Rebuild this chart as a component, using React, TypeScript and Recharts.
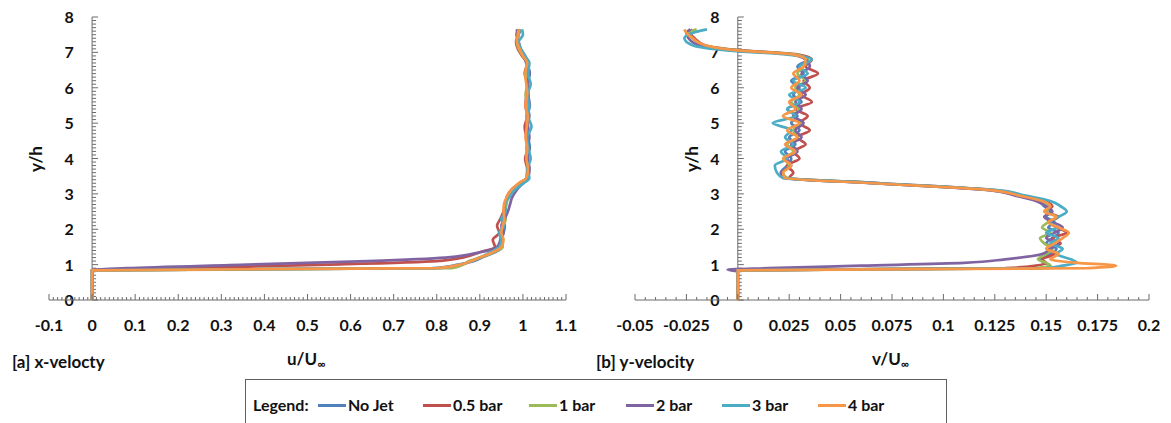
import React from 'react';
import { ScatterChart, Scatter, XAxis, YAxis, ReferenceLine } from 'recharts';

// ---------- series names & colours ----------
const seriesNames = ['No Jet', '0.5 bar', '1 bar', '2 bar', '3 bar', '4 bar'];
const seriesColors = ['#4F81BD', '#C0504D', '#9BBB59', '#8064A2', '#4BACC6', '#F79646'];

// ---------- [a] x-velocity: y/h levels and u/U∞ values ----------
const yLevelsU = [0, 0.84, 0.9, 1.0, 1.1, 1.2, 1.35, 1.5, 1.7, 1.9, 2.1, 2.3, 2.5, 2.7, 2.9, 3.1, 3.3, 3.45, 3.7, 4.0, 4.3, 4.6, 4.9, 5.2, 5.5, 5.8, 6.1, 6.4, 6.7, 6.9, 7.1, 7.3, 7.5, 7.65];
const uNoJet = [0, 0, 0.79, 0.85, 0.885, 0.905, 0.935, 0.952, 0.948, 0.955, 0.958, 0.952, 0.96, 0.958, 0.965, 0.975, 0.994, 1.01, 1.015, 1.01, 1.016, 1.012, 1.01, 1.015, 1.01, 1.013, 1.01, 1.016, 1.008, 1.0, 0.99, 0.985, 0.99, 0.995];
const u05bar = [0, 0, 0.2, 0.55, 0.8, 0.86, 0.9, 0.935, 0.93, 0.945, 0.94, 0.948, 0.955, 0.96, 0.962, 0.972, 0.992, 1.008, 1.01, 1.005, 1.012, 1.008, 1.004, 1.01, 1.006, 1.008, 1.012, 1.004, 1.01, 0.998, 0.988, 0.984, 0.99, 0.985];
const u1bar = [0, 0, 0.835, 0.862, 0.875, 0.9, 0.932, 0.953, 0.952, 0.95, 0.955, 0.96, 0.958, 0.962, 0.965, 0.978, 0.996, 1.01, 1.012, 1.01, 1.008, 1.012, 1.01, 1.008, 1.012, 1.006, 1.01, 1.008, 1.012, 1.0, 0.99, 0.986, 0.99, 0.992];
const u2bar = [0, 0, 0.08, 0.36, 0.64, 0.82, 0.9, 0.94, 0.948, 0.955, 0.95, 0.958, 0.965, 0.97, 0.975, 0.985, 1.0, 1.012, 1.015, 1.012, 1.01, 1.015, 1.012, 1.01, 1.016, 1.012, 1.01, 1.015, 1.01, 1.005, 0.995, 0.99, 0.985, 0.988];
const u3bar = [0, 0, 0.805, 0.855, 0.88, 0.9, 0.925, 0.945, 0.95, 0.945, 0.955, 0.95, 0.96, 0.958, 0.968, 0.98, 1.002, 1.015, 1.01, 1.018, 1.012, 1.01, 1.02, 1.012, 1.015, 1.01, 1.018, 1.012, 1.015, 1.005, 0.995, 0.99, 1.0, 0.998];
const u4bar = [0, 0, 0.8, 0.855, 0.88, 0.9, 0.93, 0.95, 0.955, 0.95, 0.953, 0.957, 0.955, 0.956, 0.962, 0.972, 0.99, 1.008, 1.012, 1.008, 1.01, 1.006, 1.009, 1.011, 1.006, 1.01, 1.008, 1.005, 1.01, 1.0, 0.992, 0.986, 0.988, 0.99];

// ---------- [b] y-velocity: y/h levels and v/U∞ values ----------
const yLevelsV = [0, 0.84, 0.9, 0.97, 1.05, 1.15, 1.3, 1.45, 1.6, 1.75, 1.9, 2.05, 2.2, 2.35, 2.5, 2.65, 2.8, 2.95, 3.1, 3.3, 3.45, 3.6, 3.8, 4.0, 4.2, 4.4, 4.6, 4.8, 5.0, 5.2, 5.4, 5.6, 5.8, 6.0, 6.2, 6.4, 6.6, 6.8, 6.95, 7.05, 7.2, 7.4, 7.55, 7.65];
const vNoJet = [0, 0, 0.148, 0.152, 0.149, 0.147, 0.152, 0.155, 0.15, 0.153, 0.156, 0.151, 0.154, 0.15, 0.152, 0.149, 0.146, 0.136, 0.124, 0.066, 0.023, 0.021, 0.024, 0.026, 0.023, 0.028, 0.025, 0.03, 0.026, 0.029, 0.024, 0.031, 0.027, 0.03, 0.026, 0.032, 0.029, 0.034, 0.026, 0.001, -0.017, -0.022, -0.024, -0.023];
const v05bar = [0, 0, 0.13, 0.145, 0.15, 0.148, 0.154, 0.151, 0.157, 0.153, 0.16, 0.155, 0.152, 0.156, 0.15, 0.153, 0.149, 0.138, 0.126, 0.07, 0.025, 0.027, 0.024, 0.03, 0.027, 0.033, 0.029, 0.035, 0.03, 0.034, 0.028, 0.036, 0.031, 0.035, 0.032, 0.039, 0.033, 0.036, 0.028, 0.003, -0.016, -0.021, -0.023, -0.022];
const v1bar = [0, 0, 0.145, 0.152, 0.15, 0.146, 0.15, 0.153, 0.149, 0.147, 0.152, 0.148, 0.151, 0.155, 0.15, 0.152, 0.147, 0.137, 0.125, 0.068, 0.024, 0.022, 0.025, 0.023, 0.027, 0.024, 0.029, 0.027, 0.031, 0.027, 0.03, 0.026, 0.03, 0.028, 0.033, 0.029, 0.032, 0.034, 0.027, 0.002, -0.017, -0.022, -0.024, -0.02];
// the 2 bar profile has one extra level where it kinks left of the axis
const yLevelsV2bar = [0, 0.8, 0.86, 0.9, 0.97, 1.05, 1.15, 1.3, 1.45, 1.6, 1.75, 1.9, 2.05, 2.2, 2.35, 2.5, 2.65, 2.8, 2.95, 3.1, 3.3, 3.45, 3.6, 3.8, 4.0, 4.2, 4.4, 4.6, 4.8, 5.0, 5.2, 5.4, 5.6, 5.8, 6.0, 6.2, 6.4, 6.6, 6.8, 6.95, 7.05, 7.2, 7.4, 7.55, 7.65];
const v2bar = [0, 0, -0.005, 0.015, 0.06, 0.11, 0.13, 0.148, 0.152, 0.156, 0.15, 0.154, 0.158, 0.153, 0.149, 0.153, 0.15, 0.145, 0.135, 0.123, 0.067, 0.022, 0.021, 0.026, 0.024, 0.029, 0.026, 0.031, 0.028, 0.032, 0.027, 0.031, 0.028, 0.033, 0.029, 0.034, 0.031, 0.035, 0.033, 0.025, 0.0, -0.019, -0.024, -0.025, -0.023];
const v3bar = [0, 0, 0.15, 0.158, 0.165, 0.162, 0.155, 0.158, 0.152, 0.156, 0.15, 0.155, 0.152, 0.156, 0.16, 0.157, 0.152, 0.14, 0.127, 0.069, 0.022, 0.019, 0.018, 0.024, 0.021, 0.027, 0.023, 0.026, 0.017, 0.028, 0.024, 0.03, 0.025, 0.033, 0.027, 0.034, 0.03, 0.036, 0.022, -0.004, -0.022, -0.026, -0.022, -0.015];
const v4bar = [0, 0, 0.17, 0.184, 0.165, 0.152, 0.156, 0.15, 0.154, 0.158, 0.161, 0.156, 0.151, 0.155, 0.149, 0.152, 0.148, 0.137, 0.124, 0.066, 0.023, 0.022, 0.026, 0.022, 0.028, 0.023, 0.029, 0.024, 0.03, 0.022, 0.028, 0.025, 0.031, 0.026, 0.03, 0.027, 0.032, 0.033, 0.026, 0.001, -0.016, -0.022, -0.025, -0.026];

// ---------- tick labels ----------
const uTickValues = [-0.1, 0, 0.1, 0.2, 0.3, 0.4, 0.5, 0.6, 0.7, 0.8, 0.9, 1, 1.1];
const uTickLabels = ['-0.1', '0', '0.1', '0.2', '0.3', '0.4', '0.5', '0.6', '0.7', '0.8', '0.9', '1', '1.1'];
const vTickValues = [-0.05, -0.025, 0, 0.025, 0.05, 0.075, 0.1, 0.125, 0.15, 0.175, 0.2];
const vTickLabels = ['-0.05', '-0.025', '0', '0.025', '0.05', '0.075', '0.1', '0.125', '0.15', '0.175', '0.2'];
const yTickLabels = ['0', '1', '2', '3', '4', '5', '6', '7', '8'];

const FONT = 'Lato, "Open Sans", "DejaVu Sans", sans-serif';
const AXIS = '#6b6b6b';
const TXT = '#111';
const TICK_FS = 16;

const toPoints = (ys: number[], xs: number[]) => ys.map((y, i) => ({ x: xs[i], y }));

const minorTicks = (from: number, to: number, stepsPerUnit: number) => {
  const a = Math.round(from * stepsPerUnit);
  const b = Math.round(to * stepsPerUnit);
  const out: number[] = [];
  for (let k = a; k <= b; k++) out.push(k / stepsPerUnit);
  return out;
};

const makeXTick = (majors: number[], labels: string[]) => (props: any) => {
  const { x, y, payload } = props;
  const v = payload.value;
  const idx = majors.findIndex((m) => Math.abs(m - v) < 1e-9);
  const major = idx >= 0;
  return (
    <g>
      <line x1={x} x2={x} y1={y} y2={y - (major ? 6 : 3)} stroke={AXIS} strokeWidth={1} />
      {major && (
        <text x={x} y={y + 31} textAnchor="middle" fontFamily={FONT} fontWeight={700} fontSize={TICK_FS} fill={TXT}>
          {labels[idx]}
        </text>
      )}
    </g>
  );
};

const YAxisShape = (props: any) => {
  const { x1, y1, y2 } = props;
  const bottom = Math.max(y1, y2);
  const top = Math.min(y1, y2);
  const n = 80;
  const marks = [];
  for (let i = 0; i <= n; i++) {
    const yy = bottom - ((bottom - top) * i) / n;
    marks.push(<line key={'t' + i} x1={x1} x2={x1 + (i % 10 === 0 ? 6 : 4)} y1={yy} y2={yy} stroke={AXIS} strokeWidth={1} />);
  }
  const labels = yTickLabels.map((t, i) => {
    const yy = bottom - ((bottom - top) * i) / (yTickLabels.length - 1);
    return (
      <text key={'l' + i} x={x1 - 23} y={yy + 6} textAnchor="middle" fontFamily={FONT} fontWeight={700} fontSize={TICK_FS} fill={TXT}>
        {t}
      </text>
    );
  });
  return (
    <g>
      <line x1={x1} x2={x1} y1={bottom} y2={top} stroke={AXIS} strokeWidth={1} />
      {marks}
      {labels}
    </g>
  );
};

const EmptyShape = () => <g />;

type ProfileProps = {
  width: number;
  height: number;
  margin: { top: number; right: number; bottom: number; left: number };
  domain: [number, number];
  ticks: number[];
  majors: number[];
  labels: string[];
  series: { name: string; color: string; data: { x: number; y: number }[] }[];
};

function ProfileChart(p: ProfileProps) {
  return (
    <ScatterChart width={p.width} height={p.height} margin={p.margin}>
      <XAxis
        type="number"
        dataKey="x"
        domain={p.domain}
        ticks={p.ticks}
        interval={0}
        allowDataOverflow
        tickLine={false}
        tickSize={0}
        tickMargin={0}
        axisLine={{ stroke: AXIS, strokeWidth: 1 }}
        height={50}
        tick={makeXTick(p.majors, p.labels)}
      />
      <YAxis type="number" dataKey="y" domain={[0, 8]} allowDataOverflow hide />
      <ReferenceLine x={0} ifOverflow="visible" shape={YAxisShape} />
      {p.series.map((s) => (
        <Scatter
          key={s.name}
          name={s.name}
          data={s.data}
          fill={s.color}
          stroke={s.color}
          line={{ stroke: s.color, strokeWidth: 2.7 }}
          lineType="joint"
          lineJointType="monotoneY"
          shape={EmptyShape}
          isAnimationActive={false}
        />
      ))}
    </ScatterChart>
  );
}

const uSeries = [uNoJet, u05bar, u1bar, u2bar, u3bar, u4bar].map((xs, i) => ({
  name: seriesNames[i],
  color: seriesColors[i],
  data: toPoints(yLevelsU, xs),
}));
const vLevels = [yLevelsV, yLevelsV, yLevelsV, yLevelsV2bar, yLevelsV, yLevelsV];
const vSeries = [vNoJet, v05bar, v1bar, v2bar, v3bar, v4bar].map((xs, i) => ({
  name: seriesNames[i],
  color: seriesColors[i],
  data: toPoints(vLevels[i], xs),
}));

const legendX = [318, 423, 529, 626, 722, 818];

const textStyle: React.CSSProperties = {
  position: 'absolute',
  fontFamily: FONT,
  fontWeight: 700,
  fontSize: 17,
  color: TXT,
  whiteSpace: 'nowrap',
  lineHeight: '20px',
};
const legendText: React.CSSProperties = { ...textStyle, fontSize: 16 };

export default function App() {
  return (
    <div style={{ position: 'absolute', left: 0, top: 0, width: 1171, height: 423, background: '#fff', overflow: 'hidden' }}>
      <div style={{ position: 'absolute', left: 0, top: 0 }}>
        <ProfileChart
          width={600}
          height={350}
          margin={{ top: 17, right: 34, bottom: 0, left: 49 }}
          domain={[-0.1, 1.1]}
          ticks={minorTicks(-0.1, 1.1, 100)}
          majors={uTickValues}
          labels={uTickLabels}
          series={uSeries}
        />
      </div>
      <div style={{ position: 'absolute', left: 600, top: 0 }}>
        <ProfileChart
          width={571}
          height={350}
          margin={{ top: 17, right: 22, bottom: 0, left: 35 }}
          domain={[-0.05, 0.2]}
          ticks={minorTicks(-0.05, 0.2, 200)}
          majors={vTickValues}
          labels={vTickLabels}
          series={vSeries}
        />
      </div>

      {/* axis titles */}
      <div style={{ ...textStyle, left: 23, top: 149, transform: 'rotate(-90deg)', transformOrigin: 'center' }}>y/h</div>
      <div style={{ ...textStyle, left: 679, top: 149, transform: 'rotate(-90deg)', transformOrigin: 'center' }}>y/h</div>
      <div style={{ ...textStyle, left: 12, top: 352 }}>[a] x-velocty</div>
      <div style={{ ...textStyle, left: 596, top: 352 }}>[b] y-velocity</div>
      <div style={{ ...textStyle, left: 287, top: 349 }}>
        u/U<span style={{ fontSize: 11, verticalAlign: -3 }}>∞</span>
      </div>
      <div style={{ ...textStyle, left: 872, top: 349 }}>
        v/U<span style={{ fontSize: 11, verticalAlign: -3 }}>∞</span>
      </div>

      {/* legend */}
      <div style={{ position: 'absolute', left: 245, top: 379, width: 702, height: 50, border: '1px solid #5f5f5f', boxSizing: 'border-box' }} />
      <div style={{ ...legendText, left: 253, top: 395 }}>Legend:</div>
      {seriesNames.map((n, i) => (
        <React.Fragment key={n}>
          <div style={{ position: 'absolute', left: legendX[i], top: 404, width: 28, height: 3, background: seriesColors[i] }} />
          <div style={{ ...legendText, left: legendX[i] + 30, top: 395 }}>{n}</div>
        </React.Fragment>
      ))}
    </div>
  );
}
